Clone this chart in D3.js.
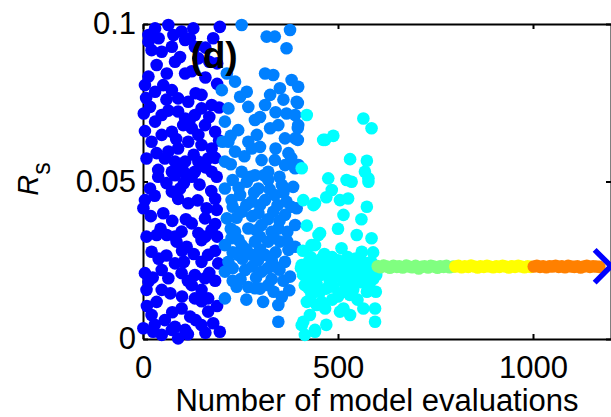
<!DOCTYPE html>
<html>
<head>
<meta charset="utf-8">
<script src="https://cdn.jsdelivr.net/npm/d3@7"></script>
<style>
  body { margin: 0; background: #fff; }
  svg { display: block; font-family: "Liberation Sans", Arial, sans-serif; }
  .axis path, .axis line { stroke: #000; stroke-width: 2; }
  .axis text { font-size: 31px; fill: #000; font-family: "Liberation Sans", Arial, sans-serif; }
</style>
</head>
<body>
<div id="chart"></div>
<script>
"use strict";

// tick values
var xTicks = [0, 500, 1000];
var yTicks = [0, 0.05, 0.1];

// [model evaluation, Rs] per generation of 200 evaluations
var gen1 = [[14,0.0965],[31,0.0986],[65,0.0997],[78,0.0965],[74,0.0928],[48,0.0912],[22,0.0917],[14,0.0944],[99,0.0976],[129,0.0986],[108,0.0949],[133,0.0928],[142,0.0891],[180,0.0955],[197,0.0991],[82,0.088],[108,0.0843],[61,0.0843],[14,0.0833],[5,0.0806],[31,0.0785],[52,0.0806],[74,0.079],[90,0.0764],[116,0.0753],[150,0.0775],[176,0.0743],[150,0.0732],[2,0.0716],[18,0.0737],[48,0.0711],[31,0.069],[90,0.0722],[108,0.07],[133,0.0711],[159,0.0679],[185,0.0658],[142,0.0648],[125,0.0669],[103,0.0679],[74,0.0658],[48,0.0648],[22,0.0626],[65,0.0595],[90,0.0605],[116,0.0626],[150,0.0616],[176,0.0605],[167,0.0573],[142,0.0563],[108,0.0563],[82,0.0563],[56,0.0573],[9,0.0573],[39,0.0537],[74,0.0531],[108,0.0526],[133,0.0531],[176,0.0531],
  [39,0.0515],[82,0.052],[125,0.0515],[189,0.0515],[18,0.0478],[5,0.0441],[1,0.0415],[74,0.0468],[95,0.0478],[116,0.0431],[52,0.0399],[163,0.0415],[189,0.041],[159,0.0383],[125,0.0367],[142,0.0336],[176,0.0346],[99,0.0341],[82,0.0325],[61,0.033],[35,0.033],[9,0.0325],[22,0.0277],[86,0.0309],[112,0.0293],[150,0.0314],[167,0.0267],[193,0.024],[82,0.024],[48,0.0219],[65,0.0193],[99,0.0209],[133,0.0203],[159,0.0193],[5,0.0209],[14,0.0182],[9,0.0156],[48,0.0156],[125,0.0171],[150,0.0156],[167,0.0129],[133,0.0129],[35,0.0118],[99,0.0097],[121,0.0071],[167,0.0087],[150,0.0044],[197,0.0023],[82,0.0039],[56,0.006],[22,0.0076],[1,0.0034],[26,0.0023],[48,0.0013],[74,0.0029],[90,0.0002],[108,0.0029],
  [40,0.0955],[120,0.0955],[160,0.0925],[170,0.088],[190,0.0875],[35,0.087],[95,0.0895],[125,0.085],[160,0.083],[190,0.081],[8,0.0765],[60,0.076],[135,0.078],[195,0.0735],[65,0.0725],[120,0.0695],[170,0.0705],[5,0.066],[85,0.0635],[195,0.063],[35,0.059],[130,0.0585],[185,0.0575],[100,0.0545],[160,0.0545],[60,0.0495],[105,0.0495],[145,0.049],[175,0.047],[30,0.0455],[90,0.0445],[140,0.044],[185,0.0445],[20,0.039],[75,0.0375],[110,0.038],[185,0.0365],[45,0.035],[160,0.0325],[190,0.0325],[100,0.028],[130,0.027],[185,0.028],[40,0.0255],[60,0.0265],[105,0.0245],[150,0.0245],[170,0.021],[25,0.0195],[115,0.0185],[185,0.0185],[70,0.0145],[100,0.0135],[150,0.012],[190,0.0105],[10,0.0105],[75,0.0085],[135,0.006],[180,0.005],[30,0.0045],[115,0.0015],[160,0.002]];

var gen2 = [[253,0.0997],[317,0.096],[338,0.096],[377,0.0981],[368,0.0923],[313,0.0843],[334,0.0838],[381,0.0822],[398,0.0801],[351,0.0796],[326,0.0775],[266,0.0785],[249,0.0769],[236,0.0817],[215,0.0843],[202,0.079],[219,0.0732],[270,0.0737],[313,0.0743],[368,0.0716],[394,0.0753],[390,0.0711],[287,0.0695],[244,0.0663],[210,0.069],[204,0.0626],[219,0.0626],[270,0.0626],[292,0.0648],[326,0.0669],[347,0.0679],[364,0.0637],[398,0.0679],[390,0.0637],[304,0.0568],[338,0.0568],[373,0.059],[279,0.0605],[236,0.0595],[210,0.0563],[253,0.0531],[287,0.052],[321,0.0531],[364,0.0552],[390,0.0542],
  [210,0.0478],[227,0.0441],[249,0.0457],[266,0.0499],[296,0.0478],[321,0.0505],[356,0.0489],[385,0.0483],[279,0.0436],[313,0.0441],[338,0.0457],[368,0.0436],[394,0.0415],[215,0.0383],[253,0.0404],[296,0.0399],[334,0.0404],[364,0.0394],[390,0.0362],[236,0.0341],[270,0.0351],[304,0.0362],[347,0.0351],[210,0.0298],[227,0.032],[253,0.0298],[287,0.0309],[321,0.0309],[351,0.0309],[373,0.0283],[390,0.0293],[219,0.0245],[244,0.0267],[279,0.0267],[313,0.0267],[364,0.0245],[210,0.0214],[262,0.0219],[304,0.0214],[338,0.023],[377,0.0198],[240,0.0166],[287,0.0161],[321,0.0171],[356,0.0134],[210,0.0129],[308,0.0118],[347,0.0108],[347,0.0055],
  [397,0.0749],[397,0.067],[397,0.0632],[399,0.0552],
  [225,0.0555],[260,0.058],[300,0.061],[340,0.0605],[380,0.0575],[230,0.0505],[275,0.0515],[310,0.052],[350,0.0515],[245,0.048],[285,0.0465],[325,0.0475],[360,0.0465],[230,0.042],[265,0.0425],[300,0.0425],[345,0.0425],[380,0.042],[240,0.0385],[280,0.039],[320,0.038],[350,0.0375],[225,0.035],[290,0.0345],[330,0.034],[370,0.034],[245,0.0315],[300,0.0325],[335,0.0325],[370,0.031],[230,0.0275],[265,0.0285],[300,0.0285],[340,0.0275],[255,0.0255],[295,0.025],[330,0.025],[230,0.0225],[280,0.023],[320,0.0225],[350,0.022],[250,0.019],[290,0.0195],[330,0.019],[360,0.0185],[270,0.0165],[300,0.016],[230,0.0185],[335,0.015],[265,0.0125],[375,0.0155],[225,0.0645],[300,0.0705],[340,0.072],[360,0.076]];

var gen3 = [[420,0.0711],[462,0.0632],[407,0.0542],[565,0.07],[586,0.0669],[467,0.0632],[488,0.0645],[531,0.0571],[574,0.0566],[569,0.0531],[475,0.051],[522,0.0505],[578,0.051],
  [535,0.0499],[578,0.0499],[484,0.0473],[411,0.0441],[437,0.0425],[505,0.0441],[526,0.0446],[574,0.042],[514,0.0394],[454,0.0336],[441,0.0298],[509,0.0288],[548,0.033],[586,0.032],[561,0.0277],
  [411,0.0235],[437,0.0224],[462,0.0235],[488,0.0245],[514,0.0235],[539,0.024],[565,0.023],[591,0.0214],[420,0.0193],[454,0.0203],[479,0.0182],[505,0.0203],[531,0.0193],[556,0.0203],[582,0.0193],[598,0.0203],[454,0.015],[488,0.0166],[514,0.015],[539,0.0156],[574,0.015],[597,0.015],[420,0.0118],[445,0.0108],[467,0.0097],[428,0.0076],[514,0.0097],[531,0.0076],[505,0.0087],[565,0.0097],[595,0.0097],[595,0.0055],[411,0.0055],[441,0.0023],[415,0.0013],
  [441,0.0431],[450,0.033],[432,0.0298],[458,0.0256],[407,0.0235],[441,0.0203],[415,0.0171],[432,0.014],[458,0.0118],[407,0.0044],[441,0.0029],
  [405,0.0225],[418,0.0215],[425,0.0245],[448,0.0228],[470,0.022],[480,0.0235],[495,0.0215],[500,0.0228],[520,0.0222],[528,0.0212],[545,0.0225],[552,0.0215],[570,0.0222],[580,0.0235],[590,0.0225],[598,0.0232],
  [410,0.028],[430,0.026],[450,0.0245],[465,0.027],[485,0.026],[500,0.025],[525,0.026],[545,0.0255],[560,0.025],[585,0.0245],[410,0.0205],[430,0.0185],[465,0.0205],[490,0.0195],[515,0.018],[540,0.019],[560,0.018],[590,0.019],[425,0.016],[470,0.016],[500,0.0135],[550,0.0125],[580,0.0165],[485,0.0125],[435,0.022],[460,0.021],[510,0.021],[535,0.0215],[560,0.0215],[595,0.022],[445,0.0175],[527,0.017],[470,0.0045],[530,0.014],[470,0.045],[560,0.038],[500,0.035],[420,0.036],[590,0.0275]];

var gen4 = [[602,0.0231],[609,0.0228],[617,0.0233],[626,0.023],[633,0.0226],[642,0.0232],[651,0.0229],[657,0.0231],[666,0.0227],[675,0.0233],[682,0.023],[690,0.0228],[699,0.0232],[707,0.0224],[714,0.0229],[722,0.0231],[731,0.0227],[738,0.0232],[746,0.023],[755,0.0226],[762,0.0231],[771,0.0229],[778,0.0232],[786,0.0228],[795,0.023]];

var gen5 = [[801,0.023],[809,0.0232],[817,0.0228],[825,0.0231],[834,0.0229],[841,0.0233],[850,0.023],[858,0.0227],[865,0.0231],[874,0.0229],[882,0.0232],[889,0.023],[898,0.0228],[906,0.0231],[914,0.0229],[922,0.0232],[930,0.023],[938,0.0227],[946,0.0231],[954,0.0229],[962,0.0232],[970,0.023],[978,0.0228],[986,0.0231],[994,0.0229]];

var gen6 = [[1002,0.023],[1010,0.0232],[1018,0.0229],[1026,0.0231],[1034,0.0228],[1042,0.0231],[1050,0.023],[1058,0.0232],[1066,0.0229],[1074,0.0231],[1082,0.0228],[1090,0.0232],[1098,0.023],[1106,0.0229],[1114,0.0231],[1122,0.0227],[1130,0.023],[1138,0.0232],[1146,0.0229],[1154,0.0231],[1162,0.023],[1170,0.0229]];

// final best solution
var best = [[1200, 0.0231]];

var generations = [gen1, gen2, gen3, gen4, gen5, gen6];
var genColors = ["#0000ff", "#0080ff", "#00ffff", "#80ff80", "#ffff00", "#ff8000"];

function scatterChart(w, h) {
  var left = 143, right = 611, top = 24, bottom = 339;

  var xScale = d3.scaleLinear().domain([0, 1200]).range([left, right]);
  var yScale = d3.scaleLinear().domain([0, 0.1]).range([bottom, top]);

  var svg = d3.select("#chart")
    .append("svg")
    .attr("width", w)
    .attr("height", h);

  // box axes, ticks pointing inward
  svg.append("g")
    .attr("class", "axis")
    .attr("transform", "translate(0," + bottom + ")")
    .call(d3.axisBottom(xScale).tickValues(xTicks).tickSizeInner(-5).tickSizeOuter(0).tickPadding(17)
      .tickFormat(function (d) { return String(d); }));

  svg.append("g")
    .attr("class", "axis")
    .attr("transform", "translate(0," + top + ")")
    .call(d3.axisTop(xScale).tickValues(xTicks).tickSizeInner(-5).tickSizeOuter(0).tickFormat(""));

  svg.append("g")
    .attr("class", "axis")
    .attr("transform", "translate(" + left + ",0)")
    .call(d3.axisLeft(yScale).tickValues(yTicks).tickSizeInner(-5).tickSizeOuter(0).tickPadding(7)
      .tickFormat(function (d) { return String(d); }));

  svg.append("g")
    .attr("class", "axis")
    .attr("transform", "translate(" + right + ",0)")
    .call(d3.axisRight(yScale).tickValues(yTicks).tickSizeInner(-5).tickSizeOuter(0).tickFormat(""));

  // points, one group per generation
  generations.forEach(function (gen, i) {
    svg.append("g")
      .selectAll("circle")
      .data(gen)
      .enter()
      .append("circle")
      .attr("cx", function (d) { return xScale(d[0]); })
      .attr("cy", function (d) { return yScale(d[1]); })
      .attr("r", 6.3)
      .attr("fill", genColors[i]);
  });

  // best point marker
  svg.selectAll(".best")
    .data(best)
    .enter()
    .append("path")
    .attr("class", "best")
    .attr("d", d3.symbol().type(d3.symbolX).size(700))
    .attr("transform", function (d) { return "translate(" + xScale(d[0]) + "," + yScale(d[1]) + ")"; })
    .attr("fill", "none")
    .attr("stroke", "#0000ff")
    .attr("stroke-width", 5.5);

  // panel label
  svg.append("text")
    .attr("x", 214)
    .attr("y", 68)
    .attr("text-anchor", "middle")
    .style("font-size", "37px")
    .style("font-weight", "bold")
    .text("(d)");

  // axis labels
  svg.append("text")
    .attr("x", (left + right) / 2)
    .attr("y", 411)
    .attr("text-anchor", "middle")
    .style("font-size", "31px")
    .text("Number of model evaluations");

  var yLabel = svg.append("text")
    .attr("transform", "translate(38,179) rotate(-90)")
    .attr("text-anchor", "middle")
    .style("font-size", "29px");
  yLabel.append("tspan").style("font-style", "italic").text("R");
  yLabel.append("tspan").attr("dy", 12).style("font-size", "25px").text("s");
}

function init() {
  scatterChart(611, 417);
}

window.onload = init;
</script>
</body>
</html>
